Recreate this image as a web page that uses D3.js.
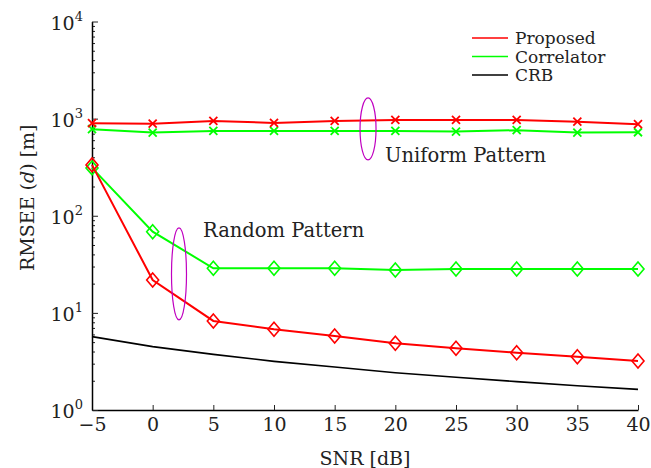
<!DOCTYPE html>
<html>
<head>
<meta charset="utf-8">
<script src="https://cdn.jsdelivr.net/npm/d3@7"></script>
<style>
  body { margin: 0; background: #fff; }
  text { font-family: "DejaVu Serif", "Liberation Serif", serif; fill: #222; }
</style>
</head>
<body>
<div class="chart"></div>
<script>
// data
const snr = [-5, 0, 5, 10, 15, 20, 25, 30, 35, 40];
const uniformProposed = [897, 888, 947, 903, 947, 970, 970, 970, 931, 876];
const uniformCorrelator = [778, 718, 747, 747, 747, 747, 735, 760, 718, 724];
const randomProposed = [334, 21.8, 8.26, 6.78, 5.78, 4.86, 4.32, 3.89, 3.54, 3.2];
const randomCorrelator = [311, 68.6, 28.8, 28.8, 28.8, 27.7, 28.3, 28.3, 28.3, 28.3];
const crb = [5.69, 4.49, 3.74, 3.17, 2.77, 2.42, 2.17, 1.96, 1.78, 1.63];
const xTicks = [-5, 0, 5, 10, 15, 20, 25, 30, 35, 40];
const yTicks = [1, 10, 100, 1000, 10000];

const svgWidth = 651;
const svgHeight = 468;
const margin = { top: 21.5, right: 13, bottom: 58, left: 92 };
const width = svgWidth - margin.left - margin.right;
const height = svgHeight - margin.top - margin.bottom;
const fs = 19;

const svg = d3.select(".chart").append("svg")
    .attr("width", svgWidth)
    .attr("height", svgHeight);

const g = svg.append("g")
    .attr("transform", `translate(${margin.left},${margin.top})`);

const x = d3.scaleLinear().domain([-5, 40]).range([0, width]);
const y = d3.scaleLog().domain([1, 10000]).range([height, 0]);

// minor y ticks (2..9 per decade)
const minor = [];
for (let e = 0; e < 4; e++) for (let m = 2; m <= 9; m++) minor.push(m * Math.pow(10, e));

g.append("g")
    .call(d3.axisLeft(y).tickValues(minor).tickSize(-3).tickFormat(""))
    .call(a => a.select(".domain").remove())
    .selectAll("line").attr("stroke", "#222");

// x axis, ticks pointing inward
const xAxis = g.append("g")
    .attr("transform", `translate(0,${height})`)
    .call(d3.axisBottom(x).tickValues(xTicks).tickSize(-5).tickSizeOuter(0).tickPadding(8));
xAxis.select(".domain").attr("stroke", "#000").attr("stroke-width", 1.5);
xAxis.selectAll("line").attr("stroke", "#222");
xAxis.selectAll("text")
    .attr("font-size", fs)
    .attr("font-family", "DejaVu Serif, serif")
    .attr("fill", "#222");

// y axis
const yAxis = g.append("g")
    .call(d3.axisLeft(y).tickValues(yTicks).tickSize(-6).tickSizeOuter(0).tickFormat(""));
yAxis.select(".domain").attr("stroke", "#000").attr("stroke-width", 1.5);
yAxis.selectAll("line").attr("stroke", "#222");

// y tick labels as 10^k
yTicks.forEach(v => {
    const t = g.append("text")
        .attr("x", -9)
        .attr("y", y(v) + 8)
        .attr("text-anchor", "end")
        .attr("font-size", fs);
    t.append("tspan").text("10");
    t.append("tspan").attr("font-size", 13).attr("dy", -9).text(Math.round(Math.log10(v)));
});

// axis labels
g.append("text")
    .attr("x", width / 2)
    .attr("y", height + 55)
    .attr("text-anchor", "middle")
    .attr("font-size", fs)
    .text("SNR [dB]");

const yl = g.append("text")
    .attr("transform", "rotate(-90)")
    .attr("x", -(height / 2) + 18)
    .attr("y", -58)
    .attr("text-anchor", "middle")
    .attr("font-size", fs);
yl.append("tspan").text("RMSEE (");
yl.append("tspan").attr("font-style", "italic").text("d");
yl.append("tspan").text(") [m]");

const line = d3.line().x((d, i) => x(snr[i])).y(d => y(d));

function drawSeries(vals, color, marker, sw) {
    g.append("path")
        .datum(vals)
        .attr("d", line)
        .attr("fill", "none")
        .attr("stroke", color)
        .attr("stroke-width", sw);
    if (marker === "x") {
        g.selectAll(null).data(vals).enter().append("path")
            .attr("transform", (d, i) => `translate(${x(snr[i])},${y(d)})`)
            .attr("d", "M-4,-4L4,4M-4,4L4,-4")
            .attr("stroke", color)
            .attr("stroke-width", 1.8)
            .attr("fill", "none");
    } else if (marker === "diamond") {
        g.selectAll(null).data(vals).enter().append("path")
            .attr("transform", (d, i) => `translate(${x(snr[i])},${y(d)})`)
            .attr("d", "M0,-7L6,0L0,7L-6,0Z")
            .attr("stroke", color)
            .attr("stroke-width", 1.6)
            .attr("fill", "none");
    }
}

drawSeries(crb, "#000", null, 1.6);
drawSeries(uniformCorrelator, "#00ff00", "x", 2);
drawSeries(uniformProposed, "#ff0000", "x", 2);
drawSeries(randomCorrelator, "#00ff00", "diamond", 2);
drawSeries(randomProposed, "#ff0000", "diamond", 2);

// annotations
g.append("ellipse")
    .attr("cx", x(17.75)).attr("cy", y(783))
    .attr("rx", 8).attr("ry", 31)
    .attr("fill", "none").attr("stroke", "#c000c0").attr("stroke-width", 1.2);
g.append("text")
    .attr("x", x(19.15)).attr("y", y(358))
    .attr("font-size", fs + 0.5)
    .text("Uniform Pattern");

g.append("ellipse")
    .attr("cx", x(2.17)).attr("cy", y(25.2))
    .attr("rx", 7.5).attr("ry", 46)
    .attr("fill", "none").attr("stroke", "#c000c0").attr("stroke-width", 1.2);
g.append("text")
    .attr("x", x(4.15)).attr("y", y(60.5))
    .attr("font-size", fs + 0.5)
    .text("Random Pattern");

// legend
const legendItems = [
    { name: "Proposed", color: "#ff0000" },
    { name: "Correlator", color: "#00ff00" },
    { name: "CRB", color: "#000" }
];
const legend = svg.append("g").attr("transform", "translate(472,38)");
legendItems.forEach((d, i) => {
    const row = legend.append("g").attr("transform", `translate(0,${i * 18.5})`);
    row.append("line")
        .attr("x1", 0).attr("x2", 36)
        .attr("stroke", d.color).attr("stroke-width", 1.6);
    row.append("text")
        .attr("x", 43).attr("y", 6)
        .attr("font-size", 17)
        .text(d.name);
});
</script>
</body>
</html>
